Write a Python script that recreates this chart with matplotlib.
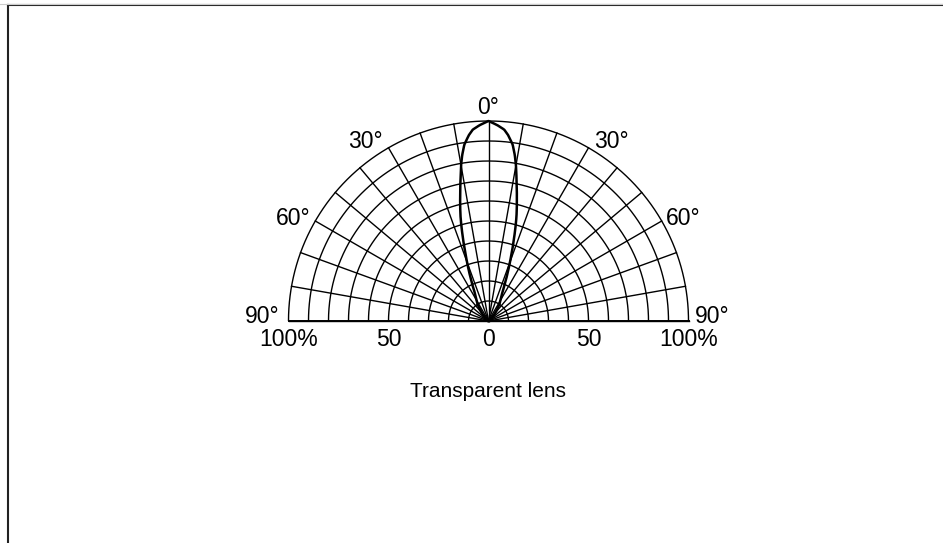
import numpy as np
import matplotlib
matplotlib.use("Agg")
import matplotlib.pyplot as plt
from matplotlib.lines import Line2D

plt.rcParams['font.family'] = ['Liberation Sans', 'DejaVu Sans']

# Data: relative intensity (%) vs. angle (deg) - symmetric lobe
angles_deg = [0, 2.6, 4.7, 6, 7.8, 9, 10, 11.4, 13, 15, 17, 19, 21, 23, 25.7, 29, 33, 38, 45, 55, 90]
intensity = [100, 98, 96, 93.5, 89, 84, 79, 71, 63, 54, 44, 35, 28, 22, 16, 12.5, 10, 6, 3, 1, 0]

ring_values = [10, 20, 30, 40, 50, 60, 70, 80, 90, 100]
spoke_angles = list(range(-90, 91, 10))
angle_labels = ["0°", "30°", "30°", "60°", "60°", "90°", "90°"]
angle_label_xy = [(0, 106.5), (-61.5, 89.7), (61.5, 89.7), (-97.5, 51.2), (97.5, 51.2),
                  (-113, 2.3), (112, 2.3)]
radius_labels = ["100%", "50", "0", "50", "100%"]
radius_label_pos = [-100, -50, 0, 50, 100]
caption = "Transparent lens"

W, H = 943, 543
fig = plt.figure(figsize=(W / 100, H / 100), dpi=100)
ax = fig.add_axes([0, 0, 1, 1])
cx, cy = 488.5, 222.0  # centre in pixels from bottom-left
scale = 2.0  # px per %
ax.set_xlim(-cx / scale, (W - cx) / scale)
ax.set_ylim(-cy / scale, (H - cy) / scale)
ax.axis('off')

lw = 1.0
t = np.radians(np.linspace(-90, 90, 400))
for r in ring_values:
    ax.plot(r * np.sin(t), r * np.cos(t), color='black', lw=lw, solid_capstyle='butt')
for a in spoke_angles:
    ar = np.radians(a)
    ax.plot([0, 100 * np.sin(ar)], [0, 100 * np.cos(ar)], color='black', lw=lw)
ax.plot([-100, 100], [0, 0], color='black', lw=1.4)

# lobe
ang = np.array(angles_deg, dtype=float)
val = np.array(intensity, dtype=float)
fine = np.linspace(-90, 90, 1441)
fv = np.interp(np.abs(fine), ang, val)
fr = np.radians(fine)
ax.plot(fv * np.sin(fr), fv * np.cos(fr), color='black', lw=1.8)

fs = 16.5
for lab, (x, y) in zip(angle_labels, angle_label_xy):
    ax.text(x, y, lab, ha='center', va='center', fontsize=fs)

for lab, x in zip(radius_labels, radius_label_pos):
    ax.text(x, -9.3, lab, ha='center', va='center', fontsize=fs)

ax.text(0, -38, caption, ha='center', va='baseline', fontsize=15)

# frame lines (top and left)
fig.add_artist(Line2D([8 / W, 1], [1 - 5 / H, 1 - 5 / H], transform=fig.transFigure,
                      color='#222222', lw=1.5))
fig.add_artist(Line2D([8 / W, 8 / W], [0, 1 - 5 / H], transform=fig.transFigure,
                      color='#222222', lw=1.5))
fig.add_artist(Line2D([0, 1], [1 - 3.5 / H, 1 - 3.5 / H], transform=fig.transFigure,
                      color='#cccccc', lw=0.8))

fig.savefig('out.png', dpi=100)
